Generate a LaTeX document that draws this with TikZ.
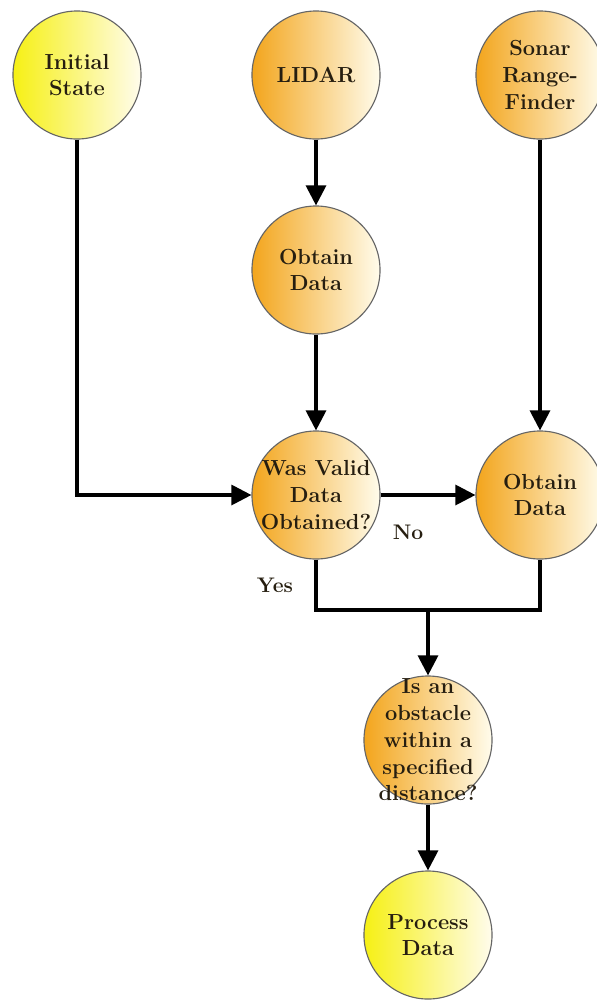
\documentclass[tikz,border=0pt]{standalone}
\usepackage{fontspec}
\usepackage{tikz}
\usetikzlibrary{arrows.meta}
\definecolor{amber}{RGB}{243,165,28}
\definecolor{lemon}{RGB}{246,240,20}
\definecolor{cream}{RGB}{255,252,236}
\definecolor{inky}{RGB}{38,30,16}
\tikzset{node distance=2cm, auto,
  state/.style={circle, minimum size=3.2cm, inner sep=0pt, align=center,
    draw=black!60, line width=0.8pt, text=inky,
    font=\fontsize{15.5}{19}\selectfont\bfseries},
  amberstate/.style={state, left color=amber, right color=cream},
  lemonstate/.style={state, left color=lemon, right color=cream},
  flow/.style={line width=2.2pt, -{Triangle[length=0.5cm,width=0.5cm]}},
  wire/.style={line width=2.2pt},
  tag/.style={text=inky, font=\fontsize{15}{18}\selectfont\bfseries}}

\begin{document}
\begin{tikzpicture}[x=0.025cm, y=-0.025cm]
\useasboundingbox (0,0) rectangle (597,1008);
\node[lemonstate] (init) at (77,75) {Initial\\State};
\node[amberstate] (lidar) at (316,75) {LIDAR};
\node[amberstate] (sonar) at (540,75) {Sonar\\Range-\\Finder};
\node[amberstate] (getl) at (316,270) {Obtain\\Data};
\node[amberstate, inner sep=-0.25cm] (valid) at (316,495) {Was Valid\\Data\\Obtained?};
\node[amberstate] (gets) at (540,495) {Obtain\\Data};
\node[amberstate, inner sep=-0.55cm] (near) at (428,740) {Is an\\obstacle\\within a\\specified\\distance?};
\node[lemonstate] (proc) at (428,935) {Process\\Data};
\coordinate (join) at (428,610);
\draw[flow] (lidar) -- (getl);
\draw[flow] (getl) -- (valid);
\draw[flow] (sonar) -- (gets);
\draw[flow] (init) |- (valid);
\draw[flow] (valid) -- (gets);
\draw[wire] (valid.south) |- (join) -| (gets.south);
\draw[flow] (join) -- (near);
\draw[flow] (near) -- (proc);
\node[tag] (no) at (408,532) {No};
\node[tag] (yes) at (275,585) {Yes};
\end{tikzpicture}
\end{document}
